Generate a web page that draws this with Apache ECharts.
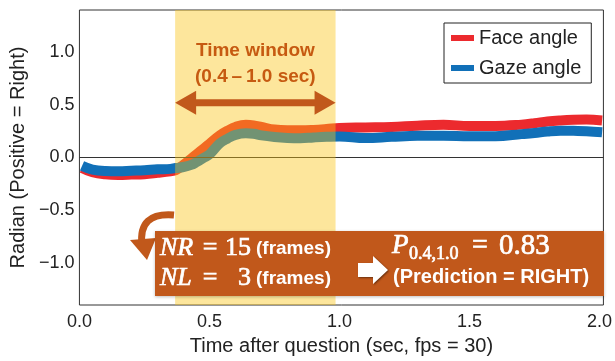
<!DOCTYPE html>
<html><head><meta charset="utf-8">
<script src="https://cdn.jsdelivr.net/npm/echarts@6/dist/echarts.min.js"></script>
<style>html,body{margin:0;padding:0;background:#fff}#c{width:615px;height:361px}</style>
</head><body><div id="c"></div>
<script>
// ---- data ----
const times      = [0.01, 0.05, 0.10, 0.15, 0.20, 0.25, 0.30, 0.35, 0.37, 0.40, 0.43, 0.45, 0.48, 0.50, 0.54, 0.57, 0.60, 0.64, 0.67, 0.70, 0.75, 0.80, 0.85, 0.90, 0.95, 1.00, 1.10, 1.20, 1.30, 1.40, 1.50, 1.60, 1.70, 1.75, 1.80, 1.85, 1.90, 1.95, 2.01];
const faceAngle  = [-0.10, -0.14, -0.16, -0.165, -0.162, -0.158, -0.145, -0.13, -0.12, -0.07, -0.01, 0.03, 0.09, 0.13, 0.21, 0.255, 0.29, 0.31, 0.305, 0.29, 0.265, 0.258, 0.258, 0.262, 0.27, 0.28, 0.285, 0.29, 0.302, 0.31, 0.30, 0.30, 0.312, 0.325, 0.342, 0.352, 0.358, 0.36, 0.352];
const gazeAngle  = [-0.08, -0.115, -0.128, -0.13, -0.125, -0.12, -0.112, -0.108, -0.10, -0.09, -0.07, -0.045, 0.0, 0.03, 0.135, 0.18, 0.215, 0.23, 0.225, 0.21, 0.195, 0.186, 0.183, 0.19, 0.196, 0.2, 0.184, 0.196, 0.206, 0.206, 0.202, 0.202, 0.222, 0.233, 0.247, 0.255, 0.253, 0.25, 0.24];
const seriesNames = ['Face angle', 'Gaze angle'];
const xTickValues = [0, 0.5, 1.0, 1.5, 2.0];
const yTickValues = [-1.0, -0.5, 0, 0.5, 1.0];
const windowRange = [0.368, 0.985];

const FONT = '"Liberation Sans", Arial, sans-serif';
const SERIF = '"Liberation Serif", "DejaVu Serif", serif';
const BROWN = '#C1581B';
const ORANGE_TXT = '#C65A11';

const chart = echarts.init(document.getElementById('c'), null, {renderer: 'canvas'});
const fmt = v => (v < 0 ? '\u2212' : '') + Math.abs(v).toFixed(1);

chart.setOption({
  animation: false,
  backgroundColor: '#fff',
  textStyle: {fontFamily: FONT},
  grid: {left: 77, right: 4, top: 10, bottom: 56, show: true, borderColor: '#333', borderWidth: 1},
  legend: {
    left: 444, top: 23, orient: 'vertical', icon: 'rect',
    itemWidth: 23, itemHeight: 6, itemGap: 10, padding: [5, 10, 5, 7],
    borderColor: '#222', borderWidth: 1, backgroundColor: '#fff',
    textStyle: {fontSize: 20, lineHeight: 20, color: '#222', fontFamily: FONT},
    data: seriesNames
  },
  xAxis: {
    type: 'value', min: 0, max: 2.015,
    axisLine: {show: false}, axisTick: {show: false}, splitLine: {show: false},
    axisLabel: {customValues: xTickValues, formatter: fmt, fontSize: 18, color: '#222', margin: 8, fontFamily: FONT},
    name: 'Time after question (sec, fps = 30)', nameLocation: 'middle', nameGap: 31,
    nameTextStyle: {fontSize: 20, color: '#222', fontFamily: FONT}
  },
  yAxis: {
    type: 'value', min: -1.4, max: 1.4,
    axisLine: {show: false}, axisTick: {show: false}, splitLine: {show: false},
    axisLabel: {customValues: yTickValues, formatter: fmt, fontSize: 18, color: '#222', margin: 5, fontFamily: FONT},
    name: 'Radian (Positive = Right)', nameLocation: 'middle', nameGap: 45,
    nameTextStyle: {fontSize: 20, color: '#222', fontFamily: FONT}
  },
  series: [
    {
      name: seriesNames[0], type: 'line', smooth: 0.4, showSymbol: false, symbol: 'none', z: 2,
      lineStyle: {width: 10, color: '#EC2A2E'}, itemStyle: {color: '#EC2A2E'},
      data: times.map((t, i) => [t, faceAngle[i]])
    },
    {
      name: seriesNames[1], type: 'line', smooth: 0.4, showSymbol: false, symbol: 'none', z: 2,
      lineStyle: {width: 10, color: '#1170B8'}, itemStyle: {color: '#1170B8'},
      data: times.map((t, i) => [t, gazeAngle[i]]),
      markLine: {
        silent: true, symbol: 'none', z: 5, label: {show: false},
        lineStyle: {color: '#333', width: 1.2, type: 'solid'},
        data: [{yAxis: 0}]
      },
      markArea: {
        silent: true, z: 8,
        itemStyle: {color: 'rgba(250,195,19,0.42)'},
        data: [[{xAxis: windowRange[0]}, {xAxis: windowRange[1]}]]
      }
    }
  ]
});

// ---- annotations ----
const pA = chart.convertToPixel({gridIndex: 0}, [windowRange[0], 0.52]);
const pB = chart.convertToPixel({gridIndex: 0}, [windowRange[1], 0.52]);
const x0 = pA[0], x1 = pB[0], ay = pA[1];
const hl = 21, hh = 12, sh = 3.5;
const cx = (x0 + x1) / 2;
const whiteTxt = {fill: '#fff', shadowColor: 'rgba(0,0,0,0.45)', shadowOffsetX: 1, shadowOffsetY: 1, shadowBlur: 2};
const mathTxt = Object.assign({stroke: '#fff', lineWidth: 0.7}, whiteTxt);

chart.setOption({
  graphic: [
    {type: 'text', z: 100, style: {text: 'Time window', x: cx, y: 51, align: 'center', verticalAlign: 'middle', font: 'bold 19px ' + FONT, fill: ORANGE_TXT}},
    {type: 'text', z: 100, style: {text: '(0.4\u2009\u2013\u20091.0 sec)', x: cx, y: 77, align: 'center', verticalAlign: 'middle', font: 'bold 19px ' + FONT, fill: ORANGE_TXT}},
    {type: 'polygon', z: 100, shape: {points: [
      [x0, ay], [x0 + hl, ay - hh], [x0 + hl, ay - sh], [x1 - hl, ay - sh], [x1 - hl, ay - hh],
      [x1, ay], [x1 - hl, ay + hh], [x1 - hl, ay + sh], [x0 + hl, ay + sh], [x0 + hl, ay + hh]
    ]}, style: {fill: BROWN}},
    // curved arrow
    {type: 'bezierCurve', z: 100, shape: {x1: 174, y1: 215, cpx1: 138, cpy1: 212, x2: 142, y2: 245}, style: {stroke: BROWN, lineWidth: 7, fill: null}},
    {type: 'polygon', z: 100, shape: {points: [[130, 240], [156, 238], [147, 260]]}, style: {fill: BROWN}},
    // brown box
    {type: 'rect', z: 100, shape: {x: 155, y: 231, width: 449, height: 65}, style: {fill: BROWN, shadowColor: 'rgba(0,0,0,0.25)', shadowBlur: 3, shadowOffsetY: 1}},
    {type: 'text', z: 101, style: Object.assign({text: 'NR', x: 160, y: 248, verticalAlign: 'middle', font: 'italic 26px ' + SERIF}, mathTxt)},
    {type: 'text', z: 101, style: Object.assign({text: '=', x: 210, y: 248, align: 'center', verticalAlign: 'middle', font: '26px ' + SERIF}, mathTxt)},
    {type: 'text', z: 101, style: Object.assign({text: '15', x: 251, y: 248, align: 'right', verticalAlign: 'middle', font: '26px ' + SERIF}, mathTxt)},
    {type: 'text', z: 101, style: Object.assign({text: '(frames)', x: 256, y: 249, verticalAlign: 'middle', font: 'bold 19px ' + FONT}, whiteTxt)},
    {type: 'text', z: 101, style: Object.assign({text: 'NL', x: 160, y: 278, verticalAlign: 'middle', font: 'italic 26px ' + SERIF}, mathTxt)},
    {type: 'text', z: 101, style: Object.assign({text: '=', x: 210, y: 278, align: 'center', verticalAlign: 'middle', font: '26px ' + SERIF}, mathTxt)},
    {type: 'text', z: 101, style: Object.assign({text: '3', x: 251, y: 278, align: 'right', verticalAlign: 'middle', font: '26px ' + SERIF}, mathTxt)},
    {type: 'text', z: 101, style: Object.assign({text: '(frames)', x: 256, y: 279, verticalAlign: 'middle', font: 'bold 19px ' + FONT}, whiteTxt)},
    {type: 'polygon', z: 101, shape: {points: [[358, 263], [373, 263], [373, 256], [388, 270], [373, 284], [373, 277], [358, 277]]}, style: Object.assign({}, whiteTxt)},
    {type: 'text', z: 101, style: Object.assign({text: 'P', x: 392, y: 246, verticalAlign: 'middle', font: 'italic 27px ' + SERIF}, mathTxt)},
    {type: 'text', z: 101, style: Object.assign({text: '0.4,1.0', x: 409, y: 254, verticalAlign: 'middle', font: '18px ' + SERIF}, mathTxt)},
    {type: 'text', z: 101, style: Object.assign({text: '=', x: 480, y: 246, align: 'center', verticalAlign: 'middle', font: '28px ' + SERIF}, mathTxt)},
    {type: 'text', z: 101, style: Object.assign({text: '0.83', x: 499, y: 246, verticalAlign: 'middle', font: '29px ' + SERIF}, mathTxt)},
    {type: 'text', z: 101, style: Object.assign({text: '(Prediction = RIGHT)', x: 393, y: 277, verticalAlign: 'middle', font: 'bold 20px ' + FONT}, whiteTxt)}
  ]
});
</script>
</body></html>
